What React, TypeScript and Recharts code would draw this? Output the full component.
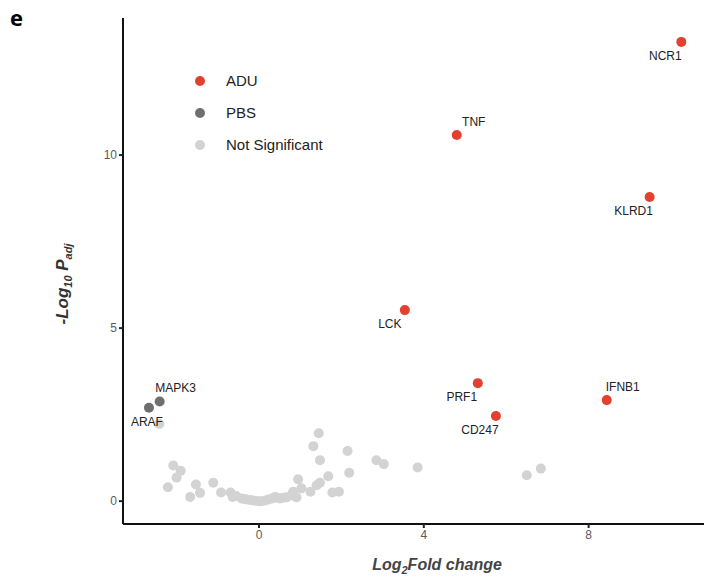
import { ScatterChart, Scatter, XAxis, YAxis } from 'recharts'

// significant in ADU
const aduGenes = ['NCR1', 'TNF', 'KLRD1', 'LCK', 'PRF1', 'IFNB1', 'CD247']
const aduLog2FC = [10.25, 4.8, 9.48, 3.54, 5.31, 8.44, 5.75]
const aduNegLogP = [13.27, 10.58, 8.79, 5.52, 3.41, 2.92, 2.46]

// significant in PBS
const pbsGenes = ['MAPK3', 'ARAF']
const pbsLog2FC = [-2.41, -2.67]
const pbsNegLogP = [2.88, 2.7]

// not significant
const nsLog2FC = [
  -2.42, 1.45, 1.32, 1.48, 2.15, 2.19, 2.85, 3.03, 3.85, 1.68, 1.48, 1.4, 0.95, 1.03, 1.25, 1.78, 1.94, 0.83, 0.91,
  -2.08, -1.9, -2.0, -2.21, -1.67, -1.53, -1.43, -1.11, -0.92, -0.69, -0.64,
  -0.42, -0.3, -0.2, -0.1, 0.0, 0.06, 0.15, 0.23, 0.32, 0.39, 0.51, 0.6, 0.67, 0.79, -0.55, -0.35, 0.45,
  6.5, 6.84,
]
const nsNegLogP = [
  2.23, 1.96, 1.59, 1.18, 1.45, 0.82, 1.18, 1.07, 0.97, 0.72, 0.53, 0.46, 0.63, 0.37, 0.27, 0.25, 0.27, 0.27, 0.11,
  1.03, 0.88, 0.68, 0.4, 0.12, 0.48, 0.24, 0.53, 0.25, 0.25, 0.12,
  0.08, 0.05, 0.03, 0.01, 0.0, 0.0, 0.02, 0.05, 0.08, 0.12, 0.08, 0.1, 0.11, 0.17, 0.15, 0.06, 0.1,
  0.75, 0.94,
]

const xTicks = [0, 4, 8]
const yTicks = [0, 5, 10]

const aduData = aduGenes.map((g, i) => ({ gene: g, x: aduLog2FC[i], y: aduNegLogP[i] }))
const pbsData = pbsGenes.map((g, i) => ({ gene: g, x: pbsLog2FC[i], y: pbsNegLogP[i] }))
const nsData = nsLog2FC.map((x, i) => ({ x, y: nsNegLogP[i] }))

const RED = '#e2412f'
const DARK = '#6f6f6f'
const LIGHT = '#d3d3d3'

// where each gene name sits relative to its dot
const labelOffset: Record<string, [number, number]> = {
  NCR1: [-16, 18],
  TNF: [17, -9],
  KLRD1: [-16, 18],
  LCK: [-15, 18],
  PRF1: [-16, 18],
  IFNB1: [16, -9],
  CD247: [-16, 18],
  MAPK3: [16, -9],
  ARAF: [-2, 18],
}

function dot(color: string) {
  return (p: any) => {
    const off = p.payload?.gene ? labelOffset[p.payload.gene] : null
    return (
      <g>
        <circle cx={p.cx} cy={p.cy} r={5} fill={color} />
        {off && (
          <text x={p.cx + off[0]} y={p.cy + off[1]} textAnchor="middle" fontSize={12} fill="#222" fontFamily="Liberation Sans, Arial">
            {p.payload.gene}
          </text>
        )}
      </g>
    )
  }
}

function LegendBox() {
  const items = [
    { name: 'ADU', color: RED },
    { name: 'PBS', color: DARK },
    { name: 'Not Significant', color: LIGHT },
  ]
  return (
    <svg width={170} height={100} style={{ position: 'absolute', left: 190, top: 70 }}>
      {items.map((it, i) => (
        <g key={it.name}>
          <circle cx={10} cy={11 + i * 32} r={5} fill={it.color} />
          <text x={36} y={16 + i * 32} fontSize={15} fill="#222" fontFamily="Liberation Sans, Arial">
            {it.name}
          </text>
        </g>
      ))}
    </svg>
  )
}

function YLabel() {
  return (
    <text transform="translate(68,284) rotate(-90)" textAnchor="middle" fontSize={17} fontWeight="bold" fontStyle="italic" fill="#333" fontFamily="Liberation Sans, Arial">
      -Log
      <tspan fontSize={11} dy={4}>10</tspan>
      <tspan dy={-4}> P</tspan>
      <tspan fontSize={11} dy={4}>adj</tspan>
    </text>
  )
}

function XLabel() {
  return (
    <text x={437} y={570} textAnchor="middle" fontSize={16} fontWeight="bold" fontStyle="italic" fill="#444" fontFamily="Liberation Sans, Arial">
      Log
      <tspan fontSize={11} dy={4}>2</tspan>
      <tspan dy={-4}>Fold change</tspan>
    </text>
  )
}

export default function App() {
  const tick = { fontSize: 12, fill: '#5a5a5a', stroke: 'none', fontFamily: 'Liberation Sans, Arial' }
  return (
    <div style={{ position: 'absolute', left: 0, top: 0, width: 704, height: 578, background: '#fff' }}>
      <div style={{ position: 'absolute', left: 10, top: 2, fontSize: 22, fontWeight: 'bold', fontFamily: 'Open Sans, Liberation Sans, Arial' }}>e</div>
      <ScatterChart width={704} height={578} margin={{ top: 18, right: 0, bottom: 0, left: 63 }}>
        <XAxis
          type="number"
          dataKey="x"
          domain={[-3.3, 10.8]}
          ticks={xTicks}
          tick={tick}
          tickLine={{ stroke: '#222', strokeWidth: 2 }}
          tickSize={4}
          axisLine={{ stroke: '#111', strokeWidth: 2 }}
          height={54}
          allowDataOverflow
        />
        <YAxis
          type="number"
          dataKey="y"
          domain={[-0.66, 13.96]}
          ticks={yTicks}
          tick={tick}
          tickLine={{ stroke: '#222', strokeWidth: 2 }}
          tickSize={4}
          axisLine={{ stroke: '#111', strokeWidth: 2 }}
          width={60}
          allowDataOverflow
        />
        <Scatter name="Not Significant" data={nsData} shape={dot(LIGHT)} isAnimationActive={false} />
        <Scatter name="PBS" data={pbsData} shape={dot(DARK)} isAnimationActive={false} />
        <Scatter name="ADU" data={aduData} shape={dot(RED)} isAnimationActive={false} />
        <YLabel />
        <XLabel />
      </ScatterChart>
      <LegendBox />
    </div>
  )
}
